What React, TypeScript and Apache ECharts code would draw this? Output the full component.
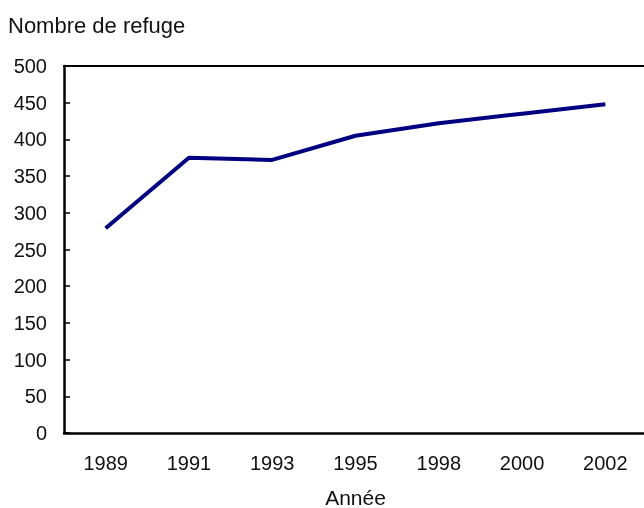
import React, { useEffect, useRef } from "react";
import * as echarts from "echarts";

const years = ["1989", "1991", "1993", "1995", "1998", "2000", "2002"];
const shelters = [279, 375, 372, 405, 422, 435, 448];
const yTitle = "Nombre de refuge";
const xTitle = "Année";

export default function App() {
  const ref = useRef<HTMLDivElement>(null);
  useEffect(() => {
    const chart = echarts.init(ref.current!, null, { renderer: "svg" });
    const font = "'Liberation Sans', Arial, sans-serif";
    chart.setOption({
      animation: false,
      textStyle: { fontFamily: font },
      graphic: [
        {
          type: "text",
          left: 8,
          top: 14,
          style: { text: yTitle, fontSize: 22, fill: "#111", fontFamily: font },
        },
      ],
      grid: { left: 64, right: 1, top: 66, bottom: 75, outerBoundsMode: "none", containLabel: false },
      xAxis: [
        {
          type: "category",
          data: years,
          boundaryGap: true,
          name: xTitle,
          nameLocation: "middle",
          nameGap: 54,
          nameTextStyle: { fontSize: 21, color: "#111", fontFamily: font },
          axisLine: { lineStyle: { color: "#000", width: 2.5 } },
          axisTick: { inside: true, length: 6, lineStyle: { color: "#000", width: 1.5 } },
          axisLabel: { fontSize: 20, color: "#111", margin: 20, fontFamily: font },
        },
        {
          type: "category",
          data: years,
          position: "top",
          axisLine: { lineStyle: { color: "#000", width: 2 } },
          axisTick: { show: false },
          axisLabel: { show: false },
        },
      ],
      yAxis: {
        type: "value",
        min: 0,
        max: 500,
        interval: 50,
        axisLine: { show: true, lineStyle: { color: "#000", width: 2.5 } },
        axisTick: { show: true, inside: true, length: 6, lineStyle: { color: "#000", width: 1.5 } },
        axisLabel: { fontSize: 20, color: "#111", margin: 17, fontFamily: font },
        splitLine: { show: false },
      },
      series: [
        {
          type: "line",
          data: shelters,
          xAxisIndex: 0,
          symbol: "none",
          lineStyle: { color: "#000080", width: 4 },
        },
      ],
    });
    return () => chart.dispose();
  }, []);
  return (
    <div
      ref={ref}
      style={{ position: "fixed", left: 0, top: 0, width: 648, height: 508 }}
    />
  );
}
